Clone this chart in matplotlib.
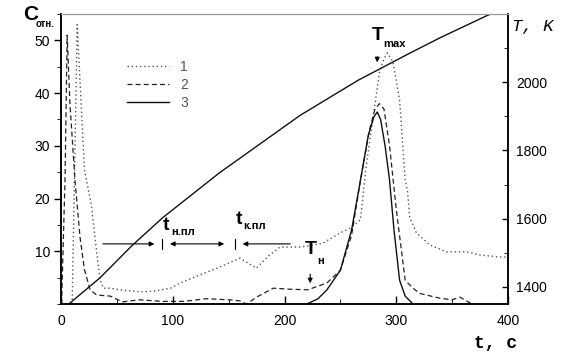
# Concentration peaks and temperature ramp vs time

import numpy as np
import matplotlib
matplotlib.use('Agg')
import matplotlib.pyplot as plt
from matplotlib.ticker import MultipleLocator

plt.rcParams['font.family'] = ['Liberation Sans', 'DejaVu Sans']

# curve 1 (dotted)
t1 = [10, 12, 14.5, 18, 21, 27, 32, 35, 38, 44, 55, 73, 85, 98, 107, 124, 142, 160, 175,
      185, 196, 214, 234, 250, 260, 268, 273, 277, 281, 285, 289, 292, 297, 303, 308, 310,
      312, 318, 330, 345, 363, 375, 393, 400]
c1 = [0, 23.5, 53, 38, 25.4, 19, 9.7, 4.6, 3.0, 3.0, 2.6, 2.3, 2.5, 3.0, 4.0, 5.5, 7.0, 8.7,
      6.8, 9.0, 10.8, 10.8, 11.5, 13.5, 14.5, 16, 26, 32, 38, 44, 46.5, 47.6, 46, 38.7, 23.5,
      21.6, 16.5, 13.5, 11.2, 9.9, 9.9, 9.3, 8.9, 8.9]

# curve 2 (dashed)
t2 = [0.5, 3.6, 5.5, 8, 12.5, 17, 21, 26, 32, 44, 55, 70, 90, 110, 130, 150, 160, 166, 175,
      190, 205, 221, 238, 250, 260, 268, 276, 281, 285, 289, 294, 300, 308, 315, 321, 339,
      350, 357, 366, 370]
c2 = [0, 23.5, 51, 38, 23.5, 12.7, 6.5, 2.7, 1.7, 1.5, 0.4, 0.8, 0.5, 0.5, 1.0, 0.8, 0.6,
      0.0, 1.3, 3.0, 2.8, 2.7, 4.0, 6.4, 13, 23.5, 33, 37, 38, 37, 30, 18, 4.5, 3.0, 2.0,
      1.1, 0.8, 1.3, 0.2, 0]

# curve 3 (solid)
t3 = [220, 230, 238, 250, 260, 268, 275, 280, 283, 286, 290, 294, 298, 303, 308, 315]
c3 = [0, 1.0, 2.7, 6.4, 14, 23.5, 32, 35.5, 36.4, 35, 30, 23.5, 14, 4.5, 1.5, 0]

# temperature, right axis
tT = [7, 35, 63.5, 91, 142, 214, 266, 312, 339, 381, 400]
TT = [1350, 1427, 1521, 1603, 1735, 1903, 2006, 2085, 2130, 2195, 2222]

x_ticks = [0, 100, 200, 300, 400]
c_ticks = [10, 20, 30, 40, 50]
T_ticks = [1400, 1600, 1800, 2000]

fig = plt.figure(figsize=(5.63, 3.56), dpi=100)
ax = fig.add_axes([61/563, 1 - 304/356, 447/563, 290/356])
ax2 = ax.twinx()

ax.plot(t1, c1, ls=(0, (1, 2)), c='#555555', lw=1.0, label='1')
ax.plot(t2, c2, ls=(0, (4, 2.5)), c='#222222', lw=0.9, label='2')
ax.plot(t3, c3, ls='-', c='#111111', lw=1.0, label='3')
ax2.plot(tT, TT, c='#111111', lw=1.0)

ax.set_xlim(0, 400)
ax.set_ylim(0, 55)
ax2.set_ylim(1350, 2200)

ax.set_xticks(x_ticks)
ax.set_yticks(c_ticks)
ax2.set_yticks(T_ticks)
ax.xaxis.set_minor_locator(MultipleLocator(50))
ax.yaxis.set_minor_locator(MultipleLocator(5))
ax2.yaxis.set_minor_locator(MultipleLocator(100))

ax.tick_params(axis='x', direction='in', length=6, width=1, pad=7, labelsize=10)
ax.tick_params(axis='x', which='minor', direction='in', length=3.5)
ax.tick_params(axis='y', direction='out', length=5, width=1, pad=3, labelsize=10)
ax.tick_params(axis='y', which='minor', direction='out', length=3)
ax2.tick_params(axis='y', direction='in', length=4, width=1, pad=6, labelsize=10)
ax2.tick_params(axis='y', which='minor', direction='in', length=3)

for a in (ax, ax2):
    a.spines['top'].set_color('#999999')
    a.spines['left'].set_linewidth(1.1)
    a.spines['right'].set_linewidth(1.1)
    a.spines['bottom'].set_linewidth(1.1)

ax.legend(loc='upper left', bbox_to_anchor=(0.12, 0.885), frameon=False,
          handlelength=3.0, labelspacing=0.3, fontsize=10, labelcolor='#555555',
          handletextpad=0.8)

# annotations
arr = dict(arrowstyle='-|>', color='black', lw=0.8, mutation_scale=7)
ax.annotate('', xy=(86, 11.4), xytext=(35, 11.4), arrowprops=arr)
ax.annotate('', xy=(160, 11.4), xytext=(207.6, 11.4), arrowprops=arr)
ax.annotate('', xy=(95, 11.4), xytext=(148.5, 11.4),
            arrowprops=dict(arrowstyle='<|-|>', color='black', lw=0.8, mutation_scale=7))
ax.plot([90.4, 90.4], [10.5, 12.3], c='black', lw=0.8)
ax.plot([155.7, 155.7], [10.5, 12.3], c='black', lw=0.8)
ax.annotate('', xy=(223, 3.4), xytext=(223, 6.2), arrowprops=arr)
ax.annotate('', xy=(283, 45.3), xytext=(283, 47.4), arrowprops=arr)

ax.text(91, 14, 't', fontsize=14, fontweight='bold')
ax.text(99, 13.1, 'н.пл', fontsize=8, fontweight='bold')
ax.text(156, 15.2, 't', fontsize=14, fontweight='bold')
ax.text(163, 14.3, 'к.пл', fontsize=8, fontweight='bold')
ax.text(218, 9.4, 'T', fontsize=14, fontweight='bold')
ax.text(229, 7.6, 'н', fontsize=8, fontweight='bold')
ax.text(278, 50, 'T', fontsize=14, fontweight='bold')
ax.text(288, 48.8, 'max', fontsize=8, fontweight='bold')

fig.text(23/563, 1 - 20/356, 'C', fontsize=15, fontweight='bold')
fig.text(36/563, 1 - 27/356, 'отн.', fontsize=7, fontweight='bold')
fig.text(512/563, 1 - 31/356, 'T, K', fontsize=12.5, family='Liberation Mono', style='italic')
fig.text(474/563, 1 - 348/356, 't, c', fontsize=13, family='Liberation Mono', fontweight='bold')

fig.savefig('out.png', dpi=100)
